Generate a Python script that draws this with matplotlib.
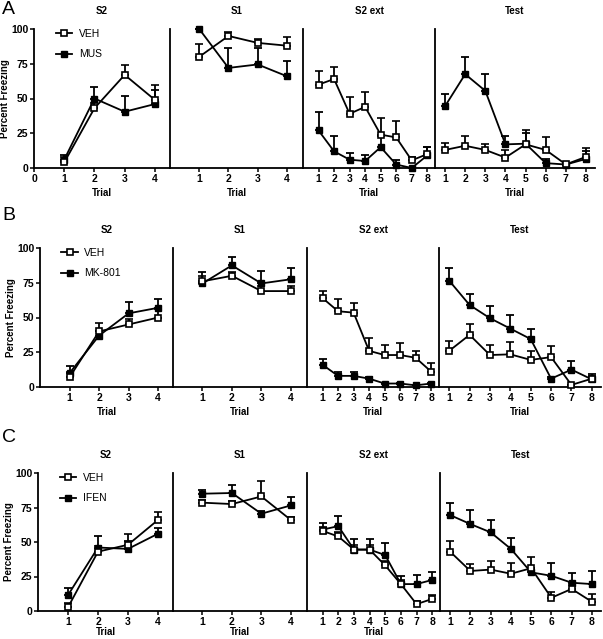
import numpy as np
import matplotlib.pyplot as plt
from matplotlib.lines import Line2D

plt.rcParams['font.family'] = ['Liberation Sans', 'DejaVu Sans']

sessions = ['S2', 'S1', 'S2 ext', 'Test']
n_trials = [4, 4, 8, 8]
drug_names = ['MUS', 'MK-801', 'IFEN']
panel_letters = ['A', 'B', 'C']

# means / upper SEM, sessions concatenated: S2(4), S1(4), S2 ext(8), Test(8)
a_veh = [4, 43, 67, 49, 80, 95, 90, 88,
         60, 64, 39, 44, 24, 22, 5.5, 10,
         13, 16, 13, 7.5, 17, 13, 2.6, 8]
a_veh_err = [4, 4, 7, 11, 9, 3, 3, 6,
             10, 9, 12, 11, 12, 12, 2.5, 5,
             5, 7, 4, 5.5, 10, 9, 0, 6.5]
a_drug = [6, 50, 40.5, 46, 100, 72, 74.5, 66,
          27, 12, 6, 5, 15, 2.5, 0, 9,
          44.5, 67.5, 55.5, 17, 17.5, 3.5, 2.5, 6.5]
a_drug_err = [3, 8, 11, 10, 0, 14, 12, 11,
              13, 11, 5, 4.5, 8, 3, 0, 6,
              8.5, 12, 12, 6, 8, 3, 0, 6]

b_veh = [7, 40, 45, 50, 76, 80, 69, 69,
         64, 54.5, 53.5, 26, 23, 23, 21, 11,
         26, 37.5, 23, 23.5, 19.5, 21.5, 1.5, 6]
b_veh_err = [4, 6, 4, 6, 4, 3, 4, 4,
             5, 8.5, 7, 9, 7, 9, 5, 6.5,
             7, 7.5, 7, 9, 6.5, 8, 0, 2]
b_drug = [10, 37, 53, 57, 74.5, 87.5, 74.5, 77.5,
          16, 8, 8, 6, 2.5, 2.5, 1.2, 2.5,
          76.5, 59, 49.5, 42, 34.5, 6, 12.5, 5.5]
b_drug_err = [5, 3, 8, 6.5, 8, 6, 9, 8,
              4, 3, 3, 1.5, 0.5, 0.5, 0.5, 0.5,
              9, 8, 8.5, 9.5, 7, 1, 6.5, 4]

c_veh = [2.7, 43, 48, 66, 78.5, 77.5, 83, 66,
         58, 54, 44.5, 44.5, 33, 19.5, 5, 8.7,
         43, 29, 30, 27, 31, 9.6, 16, 6.7]
c_veh_err = [3, 4, 8, 6, 2, 2, 11.5, 2,
             3, 3, 3, 3, 3, 3, 2, 3,
             7.5, 5, 6, 8, 8, 4.5, 3, 5.5]
c_drug = [11.5, 46, 45, 56, 85, 85.5, 70.5, 76.5,
          59, 61.5, 44.5, 44.5, 40.5, 19.5, 19.5, 22.5,
          69.5, 63, 57, 45, 28, 25.5, 20.5, 19.5]
c_drug_err = [5, 8, 6, 4, 2.5, 5.5, 2, 6,
              5, 7, 8, 8, 8.5, 6, 6.5, 6,
              9, 10.5, 9, 8, 3, 9, 7, 9.5]

veh_rows = [(a_veh, a_veh_err), (b_veh, b_veh_err), (c_veh, c_veh_err)]
drug_rows = [(a_drug, a_drug_err), (b_drug, b_drug_err), (c_drug, c_drug_err)]

# layout in pixels: y of 100, y of 0, segment boundaries
W, H = 603, 639
row_px = [(29, 168, [34, 170, 303, 435, 595]),
          (248, 387, [40, 173, 307, 439, 601]),
          (473, 611, [38, 173, 307, 440, 601])]
xlims = [(0, 4.5), (0, 4.55), (0, 8.5), (0.5, 8.45)]
letter_y = [10, 216, 437]

lw = 1.3
fig = plt.figure(figsize=(W / 100, H / 100), dpi=100)

for r in range(3):
    y100, y0, xs = row_px[r]
    veh, veh_err = veh_rows[r]
    drug, drug_err = drug_rows[r]
    start = 0
    for s in range(4):
        ax = fig.add_axes([xs[s] / W, 1 - y0 / H, (xs[s + 1] - xs[s]) / W, (y0 - y100) / H])
        n = n_trials[s]
        trials = np.arange(1, n + 1)
        sl = slice(start, start + n)
        start += n

        m = np.array(drug[sl]); e = np.array(drug_err[sl])
        ax.errorbar(trials, m, yerr=[np.zeros(n), e], fmt='-s', color='k', mfc='k', mec='k',
                    ms=3.8, lw=lw, elinewidth=lw, capsize=3, capthick=lw, clip_on=False, zorder=3)
        m = np.array(veh[sl]); e = np.array(veh_err[sl])
        ax.errorbar(trials, m, yerr=[np.zeros(n), e], fmt='-s', color='k', mfc='white', mec='k',
                    mew=1.2, ms=5, lw=lw, elinewidth=lw, capsize=3, capthick=lw, clip_on=False, zorder=4)

        ax.set_xlim(*xlims[s])
        ax.set_ylim(0, 100)
        for side in ['top', 'right']:
            ax.spines[side].set_visible(False)
        for side in ['left', 'bottom']:
            ax.spines[side].set_linewidth(1.3)
        if r == 0 and s == 0:
            ax.set_xticks([0, 1, 2, 3, 4])
        else:
            ax.set_xticks(trials)
        ax.tick_params(axis='x', length=3, width=1.1, pad=1.5, labelsize=7.5)
        for t in ax.get_xticklabels():
            t.set_fontweight('bold')
        ax.set_title(sessions[s], fontsize=7, fontweight='bold', pad=11)
        if not (r == 2 and s == 3):
            ax.set_xlabel('Trial', fontsize=7, fontweight='bold', labelpad=0 if r == 2 else 3)

        if s == 0:
            ax.set_yticks([0, 25, 50, 75, 100])
            ax.tick_params(axis='y', length=3, width=1.1, pad=1, labelsize=7.5)
            for t in ax.get_yticklabels():
                t.set_fontweight('bold')
            ax.set_ylabel('Percent Freezing', fontsize=7, fontweight='bold', labelpad=1)
            handles = [Line2D([], [], color='k', lw=lw, marker='s', ms=5, mfc='white', mec='k', mew=1.2),
                       Line2D([], [], color='k', lw=lw, marker='s', ms=3.8, mfc='k', mec='k')]
            ax.legend(handles, ['VEH', drug_names[r]], loc='upper left', bbox_to_anchor=(0.16, 1.0),
                      frameon=False, fontsize=7.5, handlelength=1.6, handletextpad=0.6,
                      labelspacing=1.0, borderpad=0, borderaxespad=0)
        else:
            ax.set_yticks([])

    fig.text(2 / W, 1 - letter_y[r] / H, panel_letters[r], fontsize=14, ha='left', va='center')

fig.savefig('out.png', dpi=100)
